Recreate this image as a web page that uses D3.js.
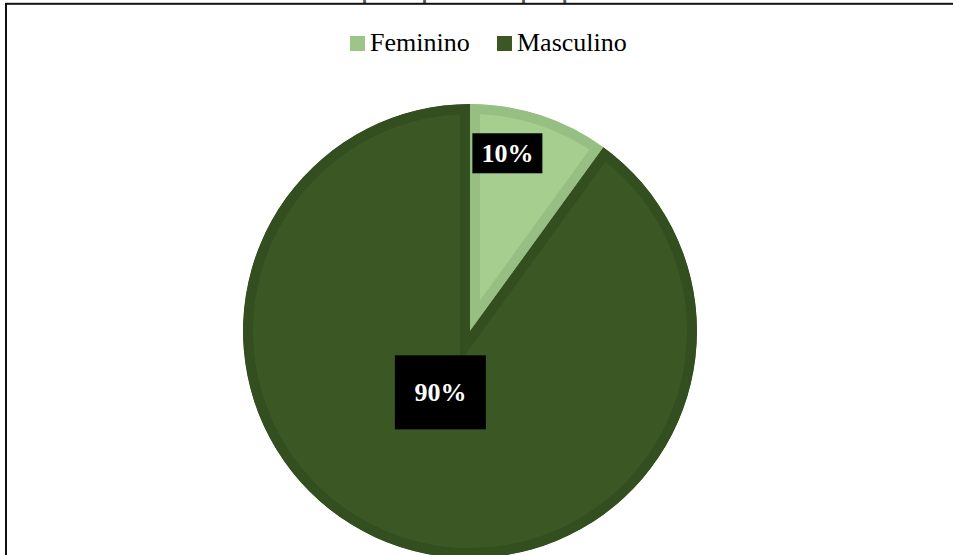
<!DOCTYPE html>
<html>
<head>
<meta charset="utf-8">
<script src="https://cdn.jsdelivr.net/npm/d3@7"></script>
<style>
  html, body { margin: 0; padding: 0; background: #ffffff; overflow: hidden; }
  svg { display: block; }
</style>
</head>
<body>
<script>
// Gender split of respondents
const categories = ["Feminino", "Masculino"];
const values = [10, 90];
const labels = ["10%", "90%"];
const title = "Gráfico 9 - Gênero dos entrevistados participantes da pesquisa";

const W = 953, H = 555;
const fills = ["#a6cf8f", "#3a5724"];
const borders = ["#98bf83", "#334e1f"];

// label placement inside each slice: fraction along the slice's angle span,
// radial position as a fraction of the radius, and box size
const labelStyle = [
  { frac: 0.33, rad: 0.80, w: 70, h: 40 },
  { frac: 0.524, rad: 0.30, w: 91, h: 74 }
];

const svg = d3.select("body").append("svg")
  .attr("width", W).attr("height", H);

// caption sitting just above the frame (mostly above the page top)
svg.append("text")
  .attr("x", 5).attr("y", 0.3)
  .attr("font-family", "Liberation Sans, Arial, sans-serif")
  .attr("font-weight", "bold")
  .attr("font-size", 20)
  .attr("fill", "#555")
  .text(title);

// chart frame
svg.append("rect")
  .attr("x", 6).attr("y", 3.8)
  .attr("width", W + 20).attr("height", H + 20)
  .attr("fill", "none")
  .attr("stroke", "#111")
  .attr("stroke-width", 2);

const cx = 470, cy = 331, r = 227;

const pie = d3.pie().sort(null).value(d => d)(values);
const arc = d3.arc().innerRadius(0).outerRadius(r);

const g = svg.append("g").attr("transform", `translate(${cx},${cy})`);
const defs = svg.append("defs");

pie.forEach((p, i) => {
  const d = arc(p);
  defs.append("clipPath").attr("id", "slice" + i)
    .append("path").attr("d", d);
  g.append("path")
    .attr("d", d)
    .attr("fill", fills[i])
    .attr("stroke", borders[i])
    .attr("stroke-width", 20)
    .attr("stroke-linejoin", "miter")
    .attr("clip-path", `url(#slice${i})`);
});

// data labels
pie.forEach((p, i) => {
  const s = labelStyle[i];
  const a = p.startAngle + s.frac * (p.endAngle - p.startAngle);
  const x = Math.sin(a) * s.rad * r;
  const y = -Math.cos(a) * s.rad * r;
  const lg = g.append("g").attr("transform", `translate(${x},${y})`);
  lg.append("rect")
    .attr("x", -s.w / 2).attr("y", -s.h / 2)
    .attr("width", s.w).attr("height", s.h)
    .attr("fill", "#000");
  lg.append("text")
    .attr("text-anchor", "middle")
    .attr("dy", "0.33em")
    .attr("font-family", "Liberation Serif, Times New Roman, serif")
    .attr("font-weight", "bold")
    .attr("font-size", 26)
    .attr("fill", "#fff")
    .text(labels[i]);
});

// legend
const legendX = [350, 497];
const legend = svg.append("g");
categories.forEach((c, i) => {
  legend.append("rect")
    .attr("x", legendX[i]).attr("y", 36)
    .attr("width", 15).attr("height", 15)
    .attr("fill", i === 0 ? "#9dc489" : fills[i]);
  legend.append("text")
    .attr("x", legendX[i] + 20).attr("y", 51)
    .attr("font-family", "Liberation Serif, Times New Roman, serif")
    .attr("font-size", 26)
    .attr("fill", "#000")
    .text(c);
});
</script>
</body>
</html>
